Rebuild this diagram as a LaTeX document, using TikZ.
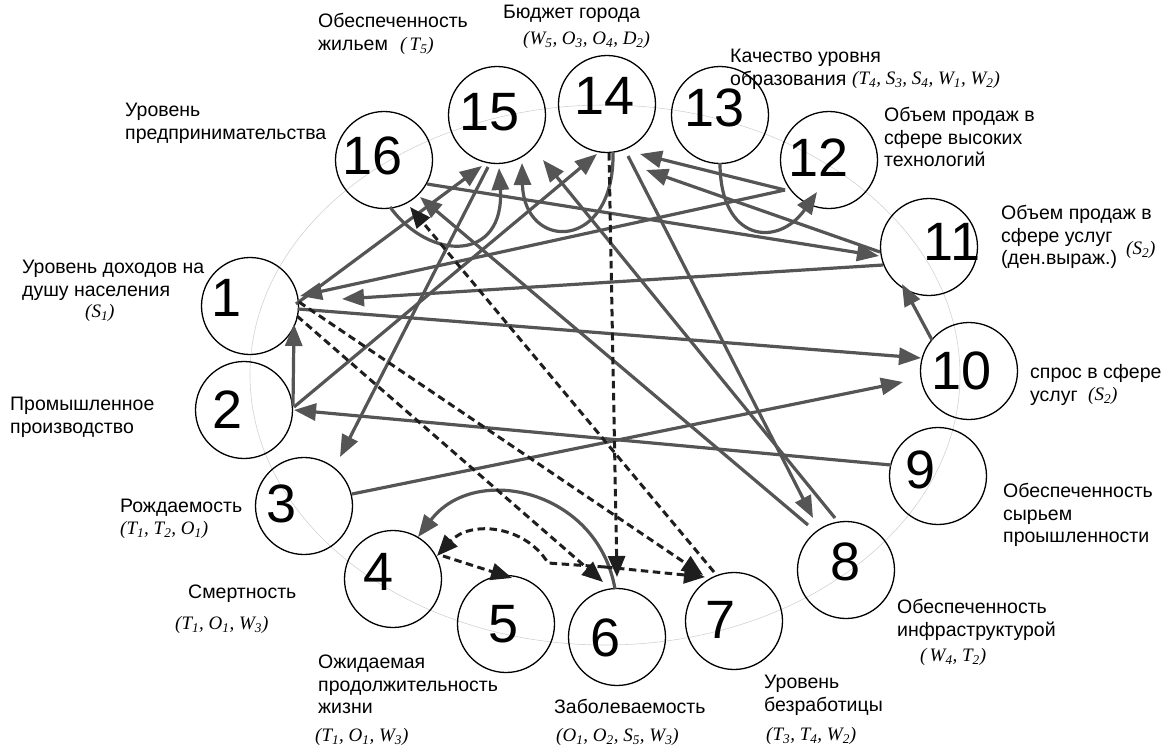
\documentclass[tikz,border=0pt]{standalone}
\usepackage{fontspec}
\setmainfont{Liberation Sans}
\newfontfamily\handfont{Liberation Serif}
\newcommand{\hsub}[1]{\textsubscript{#1}}
\usetikzlibrary{arrows.meta}
\definecolor{edgegray}{RGB}{85,85,85}
\definecolor{dashdark}{RGB}{30,30,30}
\definecolor{guide}{RGB}{210,210,210}
\begin{document}
\begin{tikzpicture}[x=1pt,y=-1pt,
  nd/.style={circle, draw=black, line width=1.3pt, minimum size=97pt, inner sep=0pt},
  num/.style={font=\fontsize{54}{54}\selectfont, inner sep=0pt},
  lbl/.style={font=\fontsize{19.5}{22.5}\selectfont, anchor=north west, inner sep=0pt, align=left},
  hw/.style={font=\handfont\itshape\fontsize{19}{22}\selectfont, anchor=west, inner sep=0pt},
  ed/.style={draw=edgegray, line width=3.2pt, -{Triangle[length=22pt,width=17pt]}},
  dsh/.style={draw=dashdark, line width=3pt, dash pattern=on 7.5pt off 4.5pt, -{Triangle[length=21pt,width=17pt]}},
]
\useasboundingbox (0,0) rectangle (1171,753);
\draw[guide, line width=0.6pt] (605,375) ellipse [x radius=355, y radius=270];

% nodes
\node[nd] (n1) at (250,306) {};
\node[nd] (n2) at (244,410) {};
\node[nd] (n3) at (304,506) {};
\node[nd] (n4) at (393,579) {};
\node[nd] (n5) at (506,624) {};
\node[nd] (n6) at (617,637) {};
\node[nd] (n7) at (734,621) {};
\node[nd] (n8) at (846,570) {};
\node[nd] (n9) at (938,476) {};
\node[nd] (n10) at (969,371) {};
\node[nd] (n11) at (929,247) {};
\node[nd] (n12) at (829,160) {};
\node[nd] (n13) at (720,115) {};
\node[nd] (n14) at (607,104) {};
\node[nd] (n15) at (497,115) {};
\node[nd] (n16) at (384,160) {};

\node[num] (t1) at (227,298) {1};
\node[num] (t2) at (228,410) {2};
\node[num] (t3) at (282,504) {3};
\node[num] (t4) at (379,572) {4};
\node[num] (t5) at (504,624) {5};
\node[num] (t6) at (606,638) {6};
\node[num] (t7) at (721,620) {7};
\node[num] (t8) at (846,562) {8};
\node[num] (t9) at (921,470) {9};
\node[num] (t10) at (962,371) {10};
\node[num] (t11) at (952,242) {11};
\node[num] (t12) at (819,158) {12};
\node[num] (t13) at (715,108) {13};
\node[num] (t14) at (605,96) {14};
\node[num] (t15) at (490,112) {15};
\node[num] (t16) at (373,156) {16};

% solid connectors
\draw[ed] ([shift={(49,-4)}]n2.center) -- ([shift={(44,18)}]n1.center);
\draw[ed] ([shift={(-37,-31)}]n10.center) -- ([shift={(-27,37)}]n11.center);
\draw[ed] ([shift={(48,-12)}]n3.center) -- ([shift={(-66,11)}]n10.center);
\draw[ed] ([shift={(-47,-11)}]n9.center) -- ([shift={(50,0)}]n2.center);
\draw[ed] ([shift={(48,3)}]n1.center) -- ([shift={(-48,-13)}]n10.center);
\draw[ed] ([shift={(-46,18)}]n11.center) -- ([shift={(92,-7)}]n1.center);
\draw[ed] ([shift={(-44,30)}]n12.center) -- ([shift={(50,-10)}]n1.center);
\draw[ed] ([shift={(43,24)}]n16.center) -- ([shift={(-50,9)}]n11.center);
\draw[ed] ([shift={(-44,30)}]n12.center) -- ([shift={(33,50)}]n14.center);
\draw[ed] ([shift={(-49,5)}]n11.center) -- ([shift={(39,66)}]n14.center);
\draw[ed] ([shift={(0,48)}]n13.center) .. controls (720,242) and (778,248) .. ([shift={(-12,32)}]n12.center);
\draw[ed] ([shift={(6,48)}]n14.center) .. controls (615,252) and (524,252) .. ([shift={(25,48)}]n15.center);
\draw[ed] ([shift={(46,-2)}]n1.center) -- ([shift={(-15,51)}]n15.center);
\draw[ed] ([shift={(50,-3)}]n2.center) -- ([shift={(-10,50)}]n14.center);
\draw[ed] ([shift={(-9,52)}]n15.center) -- ([shift={(36,-49)}]n3.center);
\draw[ed] ([shift={(-38,-45)}]n8.center) -- ([shift={(36,37)}]n16.center);
\draw[ed] ([shift={(21,52)}]n14.center) -- ([shift={(-33,-52)}]n8.center);
\draw[ed] ([shift={(-11,-52)}]n8.center) -- ([shift={(46,45)}]n15.center);
\draw[ed] ([shift={(-2,-48)}]n6.center) .. controls (598,490) and (475,462) .. ([shift={(25,-42)}]n4.center);
\draw[ed] ([shift={(6,47)}]n16.center) .. controls (430,262) and (505,262) .. ([shift={(2,53)}]n15.center);

% dashed connectors
\draw[dsh] ([shift={(47,10)}]n1.center) -- ([shift={(-14,-55)}]n6.center);
\draw[dsh] ([shift={(49,-4)}]n1.center) -- ([shift={(-31,-46)}]n7.center);
\draw[dsh] ([shift={(2,49)}]n14.center) -- ([shift={(0,-60)}]n6.center);
\draw[dsh] ([shift={(-20,-49)}]n7.center) -- ([shift={(26,47)}]n16.center);
\draw[dsh] ([shift={(-12,-70)}]n6.center) -- ([shift={(-29,-44)}]n7.center);
\draw[dsh] ([shift={(-12,-70)}]n6.center) -- (548,563) .. controls (525,525) and (470,520) .. ([shift={(44,-23)}]n4.center);
\draw[dsh] ([shift={(50,-23)}]n4.center) -- ([shift={(6,-46)}]n5.center);

% labels
\node[lbl] (l16) at (125,101) {\strut Уровень\\предпринимательства};
\node[lbl] (l15) at (318,12) {\strut Обеспеченность\\жильем};
\node[hw] (h15) at (400,46) {(\,T\hsub{5})};
\node[lbl] (l14) at (503,3) {\strut Бюджет города};
\node[hw] (h14) at (523,40) {(W\hsub{5}, O\hsub{3}, O\hsub{4}, D\hsub{2})};
\node[lbl] (l13) at (730,47) {\strut Качество уровня\\образования};
\node[hw] (h13) at (852,80) {(T\hsub{4}, S\hsub{3}, S\hsub{4}, W\hsub{1}, W\hsub{2})};
\node[lbl] (l12) at (884,106) {\strut Объем продаж в\\сфере высоких\\технологий};
\node[lbl] (l11) at (1001,204) {\strut Объем продаж в\\сфере услуг\\(ден.выраж.)};
\node[hw] (h11) at (1126,250) {(S\hsub{2})};
\node[lbl] (l1) at (22,258) {\strut Уровень доходов на\\душу населения};
\node[hw] (h1) at (85,313) {(S\hsub{1})};
\node[lbl] (l10) at (1030,363) {\strut спрос в сфере\\услуг};
\node[hw] (h10) at (1088,396) {(S\hsub{2})};
\node[lbl] (l2) at (10,395) {\strut Промышленное\\производство};
\node[lbl] (l9) at (1003,482) {\strut Обеспеченность\\сырьем\\проышленности};
\node[lbl] (l3) at (120,497) {\strut Рождаемость};
\node[hw] (h3) at (120,530) {(T\hsub{1}, T\hsub{2}, O\hsub{1})};
\node[lbl] (l8) at (897,598) {\strut Обеспеченность\\инфраструктурой};
\node[hw] (h8) at (920,657) {(\,W\hsub{4}, T\hsub{2})};
\node[lbl] (l4) at (188,583) {\strut Смертность};
\node[hw] (h4) at (175,625) {(T\hsub{1}, O\hsub{1}, W\hsub{3})};
\node[lbl] (l5) at (318,653) {\strut Ожидаемая\\продолжительность\\жизни};
\node[hw] (h5) at (315,737) {(T\hsub{1}, O\hsub{1}, W\hsub{3})};
\node[lbl] (l6) at (554,698) {\strut Заболеваемость};
\node[hw] (h6) at (556,737) {(O\hsub{1}, O\hsub{2}, S\hsub{5}, W\hsub{3})};
\node[lbl] (l7) at (764,673) {\strut Уровень\\безработицы};
\node[hw] (h7) at (766,736) {(T\hsub{3}, T\hsub{4}, W\hsub{2})};
\end{tikzpicture}
\end{document}
